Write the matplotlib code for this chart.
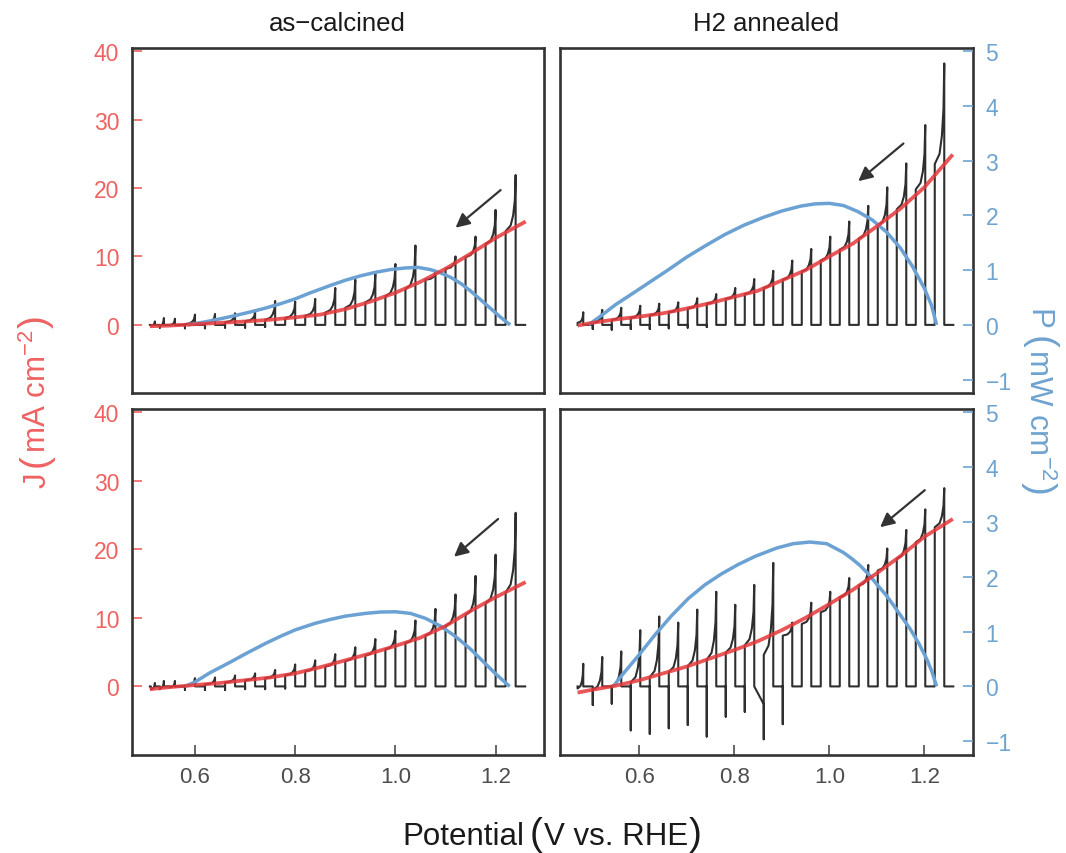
import numpy as np
import matplotlib.pyplot as plt

plt.rcParams['font.family'] = ['Liberation Sans', 'DejaVu Sans']
plt.rcParams['mathtext.fontset'] = 'custom'
plt.rcParams['mathtext.rm'] = 'Liberation Sans'
plt.rcParams['mathtext.it'] = 'Liberation Sans:italic'
plt.rcParams['mathtext.bf'] = 'Liberation Sans:bold'

# ==============================================================
# Data (V vs. RHE, J in mA cm-2, P in mW cm-2)
# ==============================================================
# chopping edges, left column (as-calcined) and right column (H2 annealed)
v_on_left = [0.520, 0.538, 0.560, 0.600, 0.640, 0.680, 0.720, 0.760, 0.800, 0.840,
             0.880, 0.920, 0.960, 1.000, 1.040, 1.080, 1.120, 1.160, 1.200, 1.240]
v_off_left = [0.512, 0.530, 0.550, 0.580, 0.620, 0.660, 0.700, 0.740, 0.780, 0.820,
              0.860, 0.900, 0.940, 0.980, 1.020, 1.060, 1.100, 1.140, 1.180, 1.220]
v_on_right = [0.482, 0.522, 0.562, 0.602, 0.642, 0.682, 0.722, 0.762, 0.802, 0.842,
              0.882, 0.922, 0.962, 1.002, 1.042, 1.082, 1.122, 1.162, 1.202, 1.242]
v_off_right = [0.470, 0.502, 0.542, 0.582, 0.622, 0.662, 0.702, 0.742, 0.782, 0.822,
               0.862, 0.902, 0.942, 0.982, 1.022, 1.062, 1.102, 1.142, 1.182, 1.222]
v_trace_left = (0.510, 1.259)
v_trace_right = (0.470, 1.261)

# top-left: as-calcined (chopped trace)
tl_peak = [0.5, 1.0, 0.9, 1.5, 1.6, 1.7, 1.9, 3.5, 3.4, 3.8,
           5.4, 6.6, 7.4, 8.9, 11.6, 7.9, 10.0, 12.9, 16.8, 21.9]
tl_plat = [-0.1, -0.1, 0.0, 0.1, 0.25, 0.4, 0.55, 0.75, 1.0, 1.35,
           1.8, 2.5, 3.3, 4.2, 5.2, 6.6, 8.2, 9.9, 11.8, 13.7]
tl_dip = [0, -0.4, 0, -0.5, -0.5, -0.4, -0.4, -0.3, 0, 0,
          0, 0, 0, 0, 0, 0, 0, 0, 0, 0]
# top-right: H2 annealed
tr_peak = [1.85, 2.2, 2.5, 2.8, 3.1, 3.3, 3.9, 4.5, 5.4, 6.7,
           7.9, 9.4, 11.1, 12.9, 15.1, 17.4, 20.1, 23.6, 29.2, 38.2]
tr_plat = [0.3, 0.3, 0.7, 1.05, 1.4, 1.85, 2.4, 3.1, 3.8, 4.5,
           5.4, 6.6, 7.8, 9.4, 11.0, 12.6, 14.5, 16.9, 19.8, 23.5]
tr_dip = [0, -0.6, -0.7, -0.6, -0.6, -0.5, -0.4, -0.3, 0, 0,
          0, 0, 0, 0, 0, 0, 0, 0, 0, 0]
# bottom-left: as-calcined
bl_peak = [0.5, 0.8, 0.8, 1.2, 1.3, 1.6, 1.9, 2.4, 3.2, 3.8,
           4.7, 5.7, 6.9, 8.1, 9.6, 11.3, 13.4, 16.1, 19.2, 25.3]
bl_plat = [-0.4, -0.25, -0.1, 0.1, 0.3, 0.6, 0.9, 1.2, 1.65, 2.2,
           2.9, 3.7, 4.5, 5.4, 6.3, 7.4, 8.8, 10.4, 12.1, 13.7]
bl_dip = [0, -0.4, 0, -0.5, -0.5, -0.5, -0.4, -0.4, -0.3, 0,
          0, 0, 0, 0, 0, 0, 0, 0, 0, 0]
# bottom-right: H2 annealed
br_peak = [3.3, 4.3, 5.1, 8.2, 10.2, 9.3, 11.2, 13.8, 11.9, 14.8,
           18.0, 9.3, 12.2, 13.8, 15.8, 17.7, 20.1, 22.8, 25.8, 28.9]
br_plat = [-0.3, -0.5, 0.0, 0.6, 1.35, 2.1, 2.95, 3.9, 4.95, 6.0,
           4.6, 7.4, 9.1, 10.8, 13.0, 14.7, 16.9, 18.6, 21.0, 23.2]
br_dip = [0, -2.7, -2.5, -6.4, -6.9, -6.1, -5.6, -7.3, -4.4, -3.7,
          -7.7, -5.5, 0, 0, 0, 0, 0, 0, 0, 0]
br_sag = [0, 0, 0, 0, 0, 0, 0, 0, 0, 0,
          -2.6, 0, 0, 0, 0, 0, 0, 0, 0, 0]
no_sag = [0] * 20

# smooth J-V curves (red)
v_j_left = [0.51, 0.55, 0.60, 0.65, 0.70, 0.75, 0.80, 0.85, 0.90, 0.95,
            1.00, 1.05, 1.10, 1.15, 1.20, 1.26]
tl_j = [-0.2, -0.1, 0.1, 0.3, 0.5, 0.75, 1.1, 1.5, 2.3, 3.4,
        4.7, 6.3, 8.2, 10.4, 12.7, 15.1]
bl_j = [-0.4, -0.1, 0.2, 0.5, 0.9, 1.3, 1.9, 2.8, 3.8, 4.8,
        5.9, 7.1, 8.8, 11.0, 13.0, 15.2]
v_j_right = [0.47, 0.50, 0.55, 0.60, 0.65, 0.70, 0.75, 0.80, 0.85, 0.90,
             0.95, 1.00, 1.05, 1.10, 1.15, 1.20, 1.26]
tr_j = [-0.1, 0.3, 0.8, 1.2, 1.7, 2.4, 3.2, 4.1, 5.0, 6.5,
        8.0, 10.0, 11.9, 14.4, 17.0, 20.1, 24.9]
br_j = [-0.9, -0.5, 0.1, 0.9, 1.9, 2.9, 4.1, 5.3, 6.6, 8.2,
        10.0, 12.0, 14.1, 16.5, 19.0, 21.8, 24.4]

# power curves (blue)
tl_pv = [0.585, 0.62, 0.65, 0.68, 0.71, 0.74, 0.77, 0.80, 0.83, 0.87,
         0.90, 0.93, 0.96, 0.99, 1.02, 1.045, 1.07, 1.09, 1.11, 1.13,
         1.15, 1.17, 1.19, 1.21, 1.229]
tl_p = [0, 0.055, 0.11, 0.17, 0.235, 0.305, 0.385, 0.475, 0.585, 0.72,
        0.815, 0.895, 0.96, 1.01, 1.04, 1.05, 1.01, 0.95, 0.87, 0.76,
        0.62, 0.46, 0.30, 0.14, 0]
tr_pv = [0.493, 0.52, 0.55, 0.58, 0.62, 0.66, 0.70, 0.74, 0.78, 0.82,
         0.86, 0.90, 0.94, 0.97, 1.00, 1.03, 1.06, 1.09, 1.12, 1.15,
         1.175, 1.20, 1.215, 1.226]
tr_p = [0, 0.17, 0.37, 0.54, 0.77, 1.00, 1.24, 1.45, 1.65, 1.82,
        1.96, 2.08, 2.17, 2.21, 2.22, 2.18, 2.07, 1.92, 1.70, 1.40,
        1.07, 0.67, 0.36, 0]
bl_pv = [0.58, 0.60, 0.63, 0.67, 0.70, 0.74, 0.77, 0.80, 0.84, 0.87,
         0.90, 0.94, 0.97, 1.00, 1.03, 1.06, 1.09, 1.12, 1.15, 1.18,
         1.20, 1.228]
bl_p = [0, 0.08, 0.25, 0.44, 0.59, 0.78, 0.91, 1.03, 1.15, 1.22,
        1.28, 1.33, 1.355, 1.36, 1.33, 1.24, 1.10, 0.91, 0.68, 0.41,
        0.23, 0]
br_pv = [0.545, 0.563, 0.598, 0.633, 0.668, 0.703, 0.738, 0.773, 0.808, 0.844,
         0.889, 0.924, 0.959, 0.9945, 1.0295, 1.047, 1.065, 1.083, 1.10, 1.118,
         1.135, 1.152, 1.17, 1.188, 1.205, 1.216, 1.226]
br_p = [0, 0.2, 0.56, 0.94, 1.29, 1.6, 1.85, 2.05, 2.22, 2.37,
        2.52, 2.60, 2.63, 2.6, 2.44, 2.33, 2.2, 2.04, 1.86, 1.68,
        1.48, 1.27, 1.05, 0.79, 0.5, 0.27, 0]

# scan-direction arrows: (tail V, tail J, head V, head J)
tl_arrow = [1.21, 19.7, 1.12, 14.2]
tr_arrow = [1.156, 26.5, 1.061, 21.0]
bl_arrow = [1.205, 24.4, 1.117, 18.9]
br_arrow = [1.201, 28.6, 1.107, 23.2]

col_titles = ['as\u2212calcined', 'H2 annealed']
j_ticks = [0, 10, 20, 30, 40]
p_ticks = [-1, 0, 1, 2, 3, 4, 5]
v_ticks = [0.6, 0.8, 1.0, 1.2]

# ==============================================================
# Style / layout
# ==============================================================
W, H = 1066, 854
RED = '#E5383B'
RED_TXT = '#EF6262'
BLUE = '#6BA2D3'
BLUE_TXT = '#6FA3D0'
INK = '#333333'
GREY = '#4D4D4D'
TXT = 22.5      # axis label size
PAREN = 28      # size of the tall brackets

# shape of the rising photocurrent inside one light period
RISE_S = [0.5, 0.75, 0.92, 1.0]
RISE_F = [0.1, 0.28, 0.55, 1.0]

BOX = {(0, 0): (131.8, 48.7, 543.6, 394.0), (0, 1): (559.7, 48.7, 973.0, 394.0),
       (1, 0): (131.8, 409.5, 543.6, 755.7), (1, 1): (559.7, 409.5, 973.0, 755.7)}
XLIM = {0: (0.4739, 1.2958), 1: (0.4324, 1.3025)}
JLIM = (-9.95, 40.5)


def chop_trace(v_range, v_off, v_on, plat, peak, dip, sag):
    v, j = [v_range[0]], [0.0]
    for k in range(len(v_on)):
        v += [v_off[k], v_off[k], v_off[k]]
        j += [sag[k], dip[k], plat[k]]
        for s, f in zip(RISE_S, RISE_F):
            v.append(v_off[k] + s * (v_on[k] - v_off[k]))
            j.append(plat[k] + f * (peak[k] - plat[k]))
        v.append(v_on[k])
        j.append(0.0)
    v.append(v_range[1])
    j.append(0.0)
    return v, j


def compose_label(pieces, center, base, color, rot):
    """Lay text pieces one after another (pixel positions, from top-left)."""
    rend = fig.canvas.get_renderer()
    arts = []
    for s, fs, gap in pieces:
        t = fig.text(0, 0, s, fontsize=fs, color=color, rotation=rot,
                     rotation_mode='anchor', ha='left', va='baseline')
        bb = t.get_window_extent(rend)
        arts.append((t, gap, bb.width if rot == 0 else bb.height))
    total = sum(a[1] + a[2] for a in arts)
    pos = -total / 2
    for t, gap, ln in arts:
        pos += gap
        if rot == 0:
            t.set_position(((center + pos) / W, 1 - base / H))
        elif rot == 90:
            t.set_position((base / W, 1 - (center - pos) / H))
        else:
            t.set_position((base / W, 1 - (center + pos) / H))
        pos += ln


panels = [
    (0, 0, tl_peak, tl_plat, tl_dip, no_sag, tl_j, tl_pv, tl_p, tl_arrow),
    (0, 1, tr_peak, tr_plat, tr_dip, no_sag, tr_j, tr_pv, tr_p, tr_arrow),
    (1, 0, bl_peak, bl_plat, bl_dip, no_sag, bl_j, bl_pv, bl_p, bl_arrow),
    (1, 1, br_peak, br_plat, br_dip, br_sag, br_j, br_pv, br_p, br_arrow),
]

fig = plt.figure(figsize=(W / 100, H / 100), dpi=100)

for r, c, peak, plat, dip, sag, jj, pv, pp, arr in panels:
    x0, y0, x1, y1 = BOX[(r, c)]
    ax = fig.add_axes([x0 / W, 1 - y1 / H, (x1 - x0) / W, (y1 - y0) / H])
    tw = ax.twinx()
    ax.set_xlim(*XLIM[c])
    ax.set_ylim(*JLIM)
    tw.set_ylim(JLIM[0] / 8, JLIM[1] / 8)

    if c == 0:
        v_on, v_off, v_rng, vj = v_on_left, v_off_left, v_trace_left, v_j_left
    else:
        v_on, v_off, v_rng, vj = v_on_right, v_off_right, v_trace_right, v_j_right

    tv, tj = chop_trace(v_rng, v_off, v_on, plat, peak, dip, sag)
    ax.plot(tv, tj, color='#2E2E2E', lw=1.5, zorder=2)
    ax.plot(pv, pp, color=BLUE, lw=2.5, zorder=3, transform=tw.transData,
            solid_capstyle='butt')
    ax.plot(vj, jj, color=RED, lw=2.7, alpha=0.85, zorder=4, solid_capstyle='butt')
    ax.annotate('', xy=(arr[2], arr[3]), xytext=(arr[0], arr[1]),
                arrowprops=dict(arrowstyle='-|>', color=INK, lw=1.6,
                                mutation_scale=21, shrinkA=0, shrinkB=0),
                zorder=5)

    for sp in ax.spines.values():
        sp.set_color(INK)
        sp.set_linewidth(1.9)
    for sp in tw.spines.values():
        sp.set_visible(False)

    ax.set_xticks(v_ticks)
    ax.set_xticklabels(['%.1f' % t for t in v_ticks])
    ax.set_yticks(j_ticks)
    tw.set_yticks(p_ticks)
    tw.set_yticklabels([str(t).replace('-', '\u2212') for t in p_ticks])

    ax.tick_params(axis='x', direction='in', length=7, width=1.2, color=GREY,
                   labelcolor=GREY, labelsize=16, pad=8,
                   bottom=(r == 1), labelbottom=(r == 1))
    ax.tick_params(axis='y', direction='in', length=7, width=1.2, color=RED_TXT,
                   labelcolor=RED_TXT, labelsize=16.5, pad=9,
                   left=(c == 0), labelleft=(c == 0))
    tw.tick_params(axis='y', direction='in', length=7, width=1.2, color=BLUE_TXT,
                   labelcolor=BLUE_TXT, labelsize=16.5, pad=9,
                   right=(c == 1), labelright=(c == 1))

    if r == 0:
        fig.text((x0 + x1) / 2 / W, 1 - 24 / H, col_titles[c], ha='center',
                 va='center', fontsize=18.5, color='#1A1A1A')

compose_label([('Potential', TXT, 0), ('(', PAREN, 6), ('V vs. RHE', TXT, 1),
               (')', PAREN, 1)], center=552, base=845, color='#1A1A1A', rot=0)
compose_label([('J', TXT, 0), ('(', PAREN, 6), ('mA cm$^{-2}$', TXT, 1),
               (')', PAREN, 1)], center=402, base=46, color=RED_TXT, rot=90)
compose_label([('P', TXT, 0), ('(', PAREN, 6), ('mW cm$^{-2}$', TXT, 1),
               (')', PAREN, 1)], center=402, base=1029, color=BLUE_TXT, rot=-90)

fig.savefig('out.png', dpi=100, facecolor='white')
